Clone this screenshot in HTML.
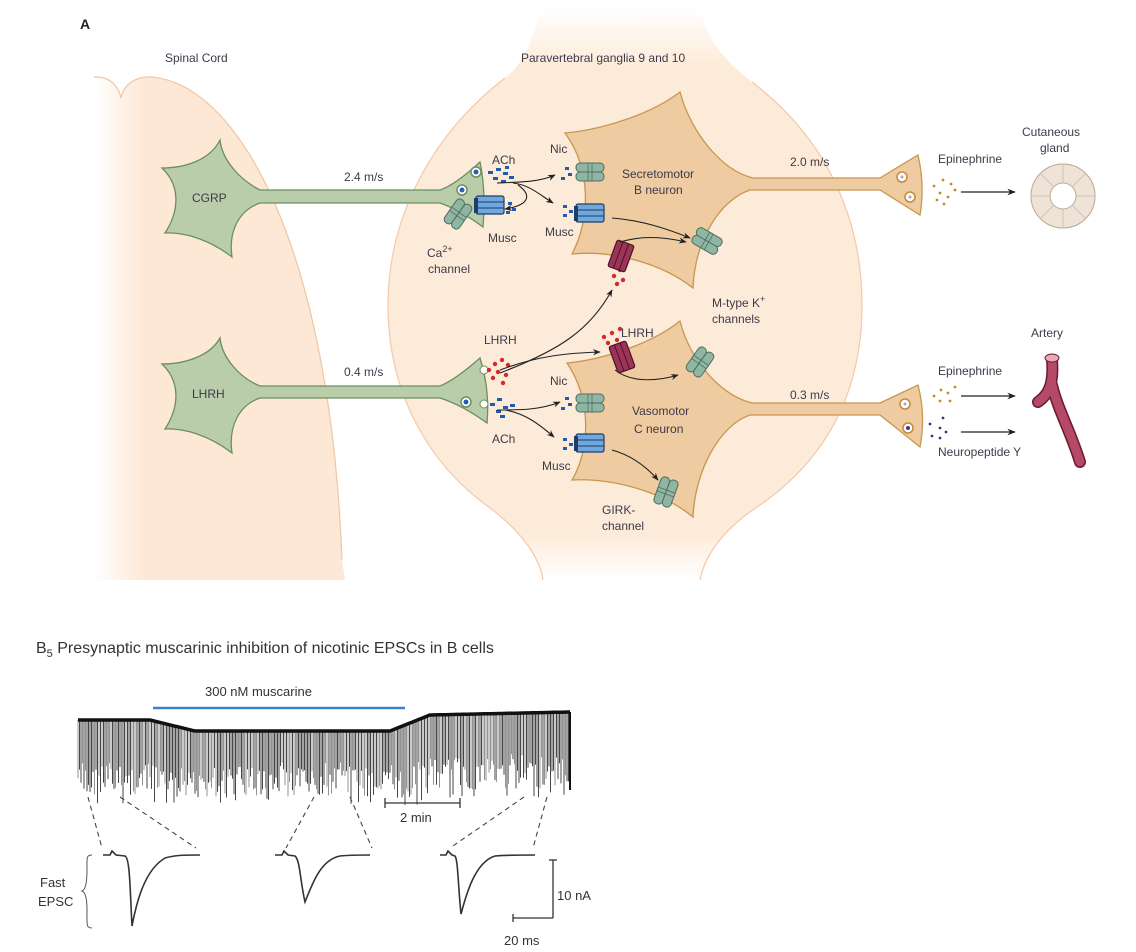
<!DOCTYPE html>
<html><head><meta charset="utf-8">
<style>
html,body{margin:0;padding:0;background:#fff;}
svg{display:block;}
text{font-family:"Liberation Sans",Arial,sans-serif;fill:#3d3a4a;font-size:12px;}
</style></head>
<body>
<svg id="s" width="1136" height="952" viewBox="0 0 1136 952" xmlns="http://www.w3.org/2000/svg">
<defs>
  <linearGradient id="spg" x1="0" y1="0" x2="1" y2="0">
    <stop offset="0" stop-color="#fde8d6" stop-opacity="0"/>
    <stop offset="0.2" stop-color="#fde8d6" stop-opacity="1"/>
    <stop offset="1" stop-color="#fde8d6"/>
  </linearGradient>
  <linearGradient id="gg" x1="0" y1="0" x2="0" y2="1">
    <stop offset="0" stop-color="#fdebd9" stop-opacity="0"/>
    <stop offset="0.1" stop-color="#fdebd9" stop-opacity="1"/>
    <stop offset="0.92" stop-color="#fdebd9" stop-opacity="1"/>
    <stop offset="1" stop-color="#fdebd9" stop-opacity="0"/>
  </linearGradient>
  <marker id="ar" viewBox="0 0 10 10" refX="9" refY="5" markerWidth="7" markerHeight="7" orient="auto">
    <path d="M0,1 L10,5 L0,9 L3,5 Z" fill="#222"/>
  </marker>
  <g id="nic">
    <rect x="-14" y="-9" width="28" height="9" rx="4" fill="#8fb5a3" stroke="#4d6e62" stroke-width="1"/>
    <rect x="-14" y="0" width="28" height="9" rx="4" fill="#8fb5a3" stroke="#4d6e62" stroke-width="1"/>
    <line x1="-2" y1="-9" x2="-2" y2="9" stroke="#4d6e62" stroke-width="0.8"/>
    <line x1="2" y1="-9" x2="2" y2="9" stroke="#4d6e62" stroke-width="0.8"/>
  </g>
  <g id="musc">
    <rect x="-14" y="-9" width="28" height="18" rx="2" fill="#6ea8dc" stroke="#1f3d66" stroke-width="1.2"/>
    <line x1="-14" y1="-3" x2="14" y2="-3" stroke="#1f3d66" stroke-width="1"/>
    <line x1="-14" y1="3" x2="14" y2="3" stroke="#1f3d66" stroke-width="1"/>
    <rect x="-16" y="-7" width="4" height="15" fill="#1f3d66"/>
  </g>
  <g id="lh">
    <rect x="-9" y="-14" width="18" height="28" rx="2" fill="#9c3457" stroke="#4a1327" stroke-width="1.2"/>
    <line x1="-3" y1="-14" x2="-3" y2="14" stroke="#4a1327" stroke-width="1"/>
    <line x1="3" y1="-14" x2="3" y2="14" stroke="#4a1327" stroke-width="1"/>
  </g>
  <g id="ves"><circle r="5" fill="#fff" stroke="#6b8f5f" stroke-width="1.5"/><circle r="2.5" fill="#2060b0"/></g>
  <g id="vesT"><circle r="5" fill="#fff" stroke="#c38a3a" stroke-width="1.5"/><circle r="1.5" fill="#aaa"/></g>
</defs>

<!-- spinal cord -->
<path d="M94,77 C108,76 118,84 121,98 C124,84 136,76 152,77 C240,85 330,250 342,560 L345,580 L94,580 Z" fill="url(#spg)"/>
<path d="M94,77 C108,76 118,84 121,98 C124,84 136,76 152,77 C240,85 330,250 342,560" fill="none" stroke="#f0c8a8" stroke-width="1.3"/>

<!-- ganglion -->
<path d="M540,8 C532,45 522,65 505,78 C425,140 388,225 388,305 C388,395 430,465 490,508 C522,532 540,558 543,580 L700,580 C705,555 722,530 760,505 C828,458 862,390 862,305 C862,220 828,140 752,82 C726,62 706,40 700,8 Z" fill="url(#gg)"/>
<path d="M505,78 C425,140 388,225 388,305 C388,395 430,465 490,508 C522,532 540,558 543,580" fill="none" stroke="#f4c8a8" stroke-width="1.2"/>
<path d="M752,82 C828,140 862,220 862,305 C862,390 828,458 760,505 C722,530 705,555 700,580" fill="none" stroke="#f4c8a8" stroke-width="1.2"/>

<text x="80" y="29" style="font-size:14px;font-weight:bold;fill:#222">A</text>
<text x="165" y="62">Spinal Cord</text>
<text x="521" y="62">Paravertebral ganglia 9 and 10</text>

<!-- CGRP neuron -->
<path d="M220,140 C222,160 240,180 260,190 L440,190 Q455,185 480,162 Q486,190 483,227 Q460,210 440,203 L260,203 C240,210 228,230 232,257 C210,240 185,232 165,233 C180,210 180,185 162,168 C185,168 210,160 220,140 Z" fill="#b9cdaa" stroke="#6b8f5f" stroke-width="1.3"/>
<text x="192" y="202">CGRP</text>
<text x="344" y="181">2.4 m/s</text>
<use href="#ves" x="462" y="190"/><use href="#ves" x="476" y="172"/>
<!-- LHRH neuron -->
<path d="M220,338 C222,358 240,378 260,386 L440,386 Q455,380 480,358 Q490,390 487,423 Q462,405 440,398 L260,398 C240,405 228,425 232,453 C210,436 185,428 165,429 C180,406 180,381 162,364 C185,364 210,356 220,338 Z" fill="#b9cdaa" stroke="#6b8f5f" stroke-width="1.3"/>
<text x="192" y="398">LHRH</text>
<text x="344" y="376">0.4 m/s</text>
<use href="#ves" x="466" y="402"/>
<circle cx="484" cy="370" r="4" fill="#fff" stroke="#6b8f5f"/><circle cx="484" cy="404" r="4" fill="#fff" stroke="#6b8f5f"/>

<!-- B neuron -->
<path d="M565,133 C600,130 650,115 680,92 C690,130 720,170 753,178 L880,178 L918,155 Q925,185 920,215 L880,190 L750,190 C720,200 695,240 693,288 C660,262 610,250 572,254 C590,220 592,170 565,133 Z" fill="#eecba0" stroke="#c8964f" stroke-width="1.3"/>
<use href="#vesT" x="902" y="177"/><use href="#vesT" x="910" y="197"/>
<text x="622" y="178">Secretomotor</text>
<text x="634" y="194">B neuron</text>
<text x="790" y="166">2.0 m/s</text>
<!-- C neuron -->
<path d="M567,363 C600,360 650,345 680,321 C690,360 720,395 752,403 L880,403 L918,385 Q926,415 920,447 L880,415 L750,415 C720,425 695,470 693,517 C660,490 610,478 572,480 C590,450 592,400 567,363 Z" fill="#eecba0" stroke="#c8964f" stroke-width="1.3"/>
<use href="#vesT" x="905" y="404"/>
<g transform="translate(908,428)"><circle r="5" fill="#fff" stroke="#c38a3a" stroke-width="1.5"/><circle r="2" fill="#3a3a7a"/></g>
<text x="632" y="415">Vasomotor</text>
<text x="634" y="433">C neuron</text>
<text x="790" y="399">0.3 m/s</text>

<!-- ACh dots -->
<g fill="#1f5cb0">
<rect x="488" y="171" width="5" height="3"/><rect x="496" y="168" width="5" height="3"/><rect x="503" y="172" width="5" height="3"/><rect x="493" y="177" width="5" height="3"/><rect x="501" y="180" width="5" height="3"/><rect x="509" y="176" width="5" height="3"/><rect x="505" y="166" width="4" height="3"/>
<rect x="508" y="202" width="4" height="3"/><rect x="512" y="208" width="4" height="3"/><rect x="506" y="211" width="4" height="3"/>
<rect x="565" y="167" width="4" height="3"/><rect x="568" y="173" width="4" height="3"/><rect x="561" y="177" width="4" height="3"/>
<rect x="563" y="205" width="4" height="3"/><rect x="569" y="210" width="4" height="3"/><rect x="563" y="214" width="4" height="3"/>
<rect x="490" y="403" width="5" height="3"/><rect x="497" y="398" width="5" height="3"/><rect x="503" y="406" width="5" height="3"/><rect x="496" y="410" width="5" height="3"/><rect x="510" y="404" width="5" height="3"/><rect x="500" y="415" width="5" height="3"/>
<rect x="565" y="397" width="4" height="3"/><rect x="568" y="403" width="4" height="3"/><rect x="561" y="407" width="4" height="3"/>
<rect x="563" y="438" width="4" height="3"/><rect x="569" y="443" width="4" height="3"/><rect x="563" y="447" width="4" height="3"/>
</g>
<!-- LHRH dots -->
<g fill="#d42a2a">
<circle cx="489" cy="370" r="2.2"/><circle cx="495" cy="364" r="2.2"/><circle cx="502" cy="360" r="2.2"/><circle cx="508" cy="365" r="2.2"/><circle cx="498" cy="372" r="2.2"/><circle cx="506" cy="375" r="2.2"/><circle cx="493" cy="378" r="2.2"/><circle cx="503" cy="383" r="2.2"/>
<circle cx="612" cy="266" r="2.2"/><circle cx="620" cy="270" r="2.2"/><circle cx="614" cy="276" r="2.2"/><circle cx="623" cy="280" r="2.2"/><circle cx="617" cy="284" r="2.2"/>
<circle cx="604" cy="337" r="2.2"/><circle cx="612" cy="333" r="2.2"/><circle cx="608" cy="343" r="2.2"/><circle cx="617" cy="340" r="2.2"/><circle cx="613" cy="348" r="2.2"/><circle cx="620" cy="329" r="2.2"/>
</g>

<!-- channels -->
<use href="#nic" x="590" y="172"/>
<use href="#musc" x="590" y="213"/>
<use href="#musc" x="490" y="205"/>
<use href="#nic" transform="translate(458,214) rotate(-55)"/>
<use href="#nic" transform="translate(707,241) rotate(30)"/>
<use href="#lh" transform="translate(621,256) rotate(20)"/>
<use href="#lh" transform="translate(622,357) rotate(-20)"/>
<use href="#nic" transform="translate(700,362) rotate(-55)"/>
<use href="#nic" x="590" y="403"/>
<use href="#musc" x="590" y="443"/>
<use href="#nic" transform="translate(666,492) rotate(-70)"/>

<!-- arrows -->
<g fill="none" stroke="#222" stroke-width="1.1" marker-end="url(#ar)">
<path d="M497,183 C520,182 540,182 555,175"/>
<path d="M513,183 C530,185 540,195 553,203"/>
<path d="M518,185 C532,195 530,205 505,209"/>
<path d="M612,218 C640,220 665,228 690,238"/>
<path d="M620,242 C640,236 660,236 686,242"/>
<path d="M500,373 C560,350 590,330 612,290"/>
<path d="M500,370 C540,355 570,353 600,352"/>
<path d="M615,370 C630,382 655,382 678,375"/>
<path d="M497,410 C520,410 540,410 560,402"/>
<path d="M505,410 C525,413 540,425 554,437"/>
<path d="M612,450 C630,455 645,465 658,480"/>
</g>
<text x="492" y="164">ACh</text>
<text x="550" y="153">Nic</text>
<text x="488" y="242">Musc</text>
<text x="545" y="236">Musc</text>
<text x="427" y="257">Ca<tspan dy="-5" style="font-size:9px">2+</tspan></text>
<text x="428" y="273">channel</text>
<text x="712" y="307">M-type K<tspan dy="-5" style="font-size:9px">+</tspan></text>
<text x="712" y="323">channels</text>
<text x="484" y="344">LHRH</text>
<text x="621" y="337">LHRH</text>
<text x="550" y="385">Nic</text>
<text x="492" y="443">ACh</text>
<text x="542" y="470">Musc</text>
<text x="602" y="514">GIRK-</text>
<text x="602" y="530">channel</text>

<!-- right side targets -->
<text x="1022" y="136">Cutaneous</text>
<text x="1040" y="152">gland</text>
<text x="938" y="163">Epinephrine</text>
<g fill="#c48a2a">
<circle cx="934" cy="186" r="1.4"/><circle cx="943" cy="180" r="1.4"/><circle cx="951" cy="184" r="1.4"/><circle cx="940" cy="193" r="1.4"/><circle cx="948" cy="197" r="1.4"/><circle cx="955" cy="190" r="1.4"/><circle cx="944" cy="204" r="1.4"/><circle cx="937" cy="200" r="1.4"/>
<circle cx="934" cy="396" r="1.4"/><circle cx="941" cy="390" r="1.4"/><circle cx="948" cy="393" r="1.4"/><circle cx="955" cy="387" r="1.4"/><circle cx="940" cy="401" r="1.4"/><circle cx="950" cy="401" r="1.4"/>
</g>
<g fill="#3a3a7a">
<circle cx="930" cy="424" r="1.4"/><circle cx="940" cy="428" r="1.4"/><circle cx="943" cy="418" r="1.4"/><circle cx="946" cy="432" r="1.4"/><circle cx="932" cy="436" r="1.4"/><circle cx="940" cy="438" r="1.4"/>
</g>
<g stroke="#222" stroke-width="1.2" marker-end="url(#ar)">
<line x1="961" y1="192" x2="1015" y2="192"/>
<line x1="961" y1="396" x2="1015" y2="396"/>
<line x1="961" y1="432" x2="1015" y2="432"/>
</g>
<circle cx="1063" cy="196" r="23" fill="none" stroke="#efe3d8" stroke-width="19"/>
<circle cx="1063" cy="196" r="32" fill="none" stroke="#b8a898" stroke-width="1"/>
<circle cx="1063" cy="196" r="13" fill="none" stroke="#b8a898" stroke-width="1"/>
<g stroke="#c8b8a8" stroke-width="0.8">
<line x1="1063" y1="164" x2="1063" y2="183"/><line x1="1063" y1="209" x2="1063" y2="228"/><line x1="1031" y1="196" x2="1050" y2="196"/><line x1="1076" y1="196" x2="1095" y2="196"/>
<line x1="1040" y1="173" x2="1054" y2="187"/><line x1="1072" y1="205" x2="1086" y2="219"/><line x1="1086" y1="173" x2="1072" y2="187"/><line x1="1054" y1="205" x2="1040" y2="219"/>
</g>
<text x="1031" y="337">Artery</text>
<text x="938" y="375">Epinephrine</text>
<text x="938" y="456">Neuropeptide Y</text>
<path d="M1052,360 C1054,385 1048,395 1038,402 M1052,385 C1058,410 1070,430 1080,462" fill="none" stroke="#6a1a30" stroke-width="12" stroke-linecap="round"/>
<path d="M1052,360 C1054,385 1048,395 1038,402 M1052,385 C1058,410 1070,430 1080,462" fill="none" stroke="#b54a68" stroke-width="9" stroke-linecap="round"/>
<ellipse cx="1052" cy="358" rx="7" ry="4" fill="#e8a8b8" stroke="#6a1a30"/>

<!-- B5 -->
<text x="36" y="653" style="font-size:16px;fill:#333">B<tspan dy="4" style="font-size:11px">5</tspan><tspan dy="-4"> Presynaptic muscarinic inhibition of nicotinic EPSCs in B cells</tspan></text>
<text x="205" y="696" style="font-size:13px;fill:#333">300 nM muscarine</text>
<line x1="153" y1="708" x2="405" y2="708" stroke="#3b82c8" stroke-width="2.5"/>
<g id="trace"></g>
<g stroke="#333" stroke-width="1.3">
<line x1="385" y1="803" x2="460" y2="803"/><line x1="385" y1="798" x2="385" y2="808"/><line x1="460" y1="798" x2="460" y2="808"/>
</g>
<text x="400" y="822" style="font-size:13px;fill:#333">2 min</text>
<g stroke="#444" stroke-width="1.1" stroke-dasharray="5,4" fill="none">
<line x1="88" y1="797" x2="102" y2="848"/><line x1="120" y1="797" x2="196" y2="848"/>
<line x1="314" y1="797" x2="286" y2="848"/><line x1="350" y1="797" x2="372" y2="848"/>
<line x1="524" y1="797" x2="450" y2="848"/><line x1="547" y1="797" x2="533" y2="848"/>
</g>
<g fill="none" stroke="#333" stroke-width="1.6">
<path d="M103,855 L110,855 L112,851 L116,855 L125,856 C130,858 130,890 132,926 C137,900 145,870 165,858 C175,855 185,855 200,855"/>
<path d="M275,855 L282,855 L284,851 L288,855 L295,856 C300,860 300,880 305,902 C312,885 320,860 340,856 C350,855 360,855 370,855"/>
<path d="M440,855 L446,855 L448,851 L452,855 L455,856 C458,860 458,885 461,914 C466,895 475,862 495,856 C505,855 520,855 535,855"/>
</g>
<path d="M92,855 C86,855 87,858 87,870 C87,885 85,890 82,891 C85,892 87,897 87,910 C87,925 86,928 92,928" fill="none" stroke="#555" stroke-width="1"/>
<text x="40" y="887" style="font-size:13px;fill:#333">Fast</text>
<text x="38" y="906" style="font-size:13px;fill:#333">EPSC</text>
<g stroke="#333" stroke-width="1.3">
<line x1="553" y1="860" x2="553" y2="918"/><line x1="549" y1="860" x2="557" y2="860"/>
<line x1="513" y1="918" x2="553" y2="918"/><line x1="513" y1="914" x2="513" y2="922"/>
</g>
<text x="557" y="900" style="font-size:13px;fill:#333">10 nA</text>
<text x="504" y="945" style="font-size:13px;fill:#333">20 ms</text>
</svg>
<script>
(function(){
var g=document.getElementById('trace');var ns='http://www.w3.org/2000/svg';
function by(x){if(x<150)return 720;if(x<195)return 720+(x-150)/45*11;if(x<390)return 731;if(x<430)return 731-(x-390)/40*16;return 715-(x-430)/140*3;}
var seed=7;function r(){seed=(seed*9301+49297)%233280;return seed/233280;}
var d='',d2='';
for(var x=78;x<=570;x+=1.5){var y=by(x);var L=45+r()*40;if(x>200&&x<400)L=35+r()*38;
 if(r()<0.55)d+='M'+x.toFixed(1)+','+y.toFixed(1)+'V'+(y+L).toFixed(1);else d2+='M'+x.toFixed(1)+','+y.toFixed(1)+'V'+(y+L*0.9).toFixed(1);}
var p=document.createElementNS(ns,'path');p.setAttribute('d',d);p.setAttribute('stroke','#333');p.setAttribute('stroke-width','0.9');g.appendChild(p);
var p2=document.createElementNS(ns,'path');p2.setAttribute('d',d2);p2.setAttribute('stroke','#888');p2.setAttribute('stroke-width','0.9');g.appendChild(p2);
var b='';for(var x2=78;x2<=570;x2+=2){b+=(x2==78?'M':'L')+x2+','+by(x2).toFixed(1);}
var p3=document.createElementNS(ns,'path');p3.setAttribute('d',b);p3.setAttribute('stroke','#111');p3.setAttribute('stroke-width','3.5');p3.setAttribute('fill','none');g.appendChild(p3);
var p4=document.createElementNS(ns,'line');p4.setAttribute('x1','570');p4.setAttribute('x2','570');p4.setAttribute('y1','712');p4.setAttribute('y2','790');p4.setAttribute('stroke','#111');p4.setAttribute('stroke-width','2');g.appendChild(p4);
})();
</script>
</body></html>
